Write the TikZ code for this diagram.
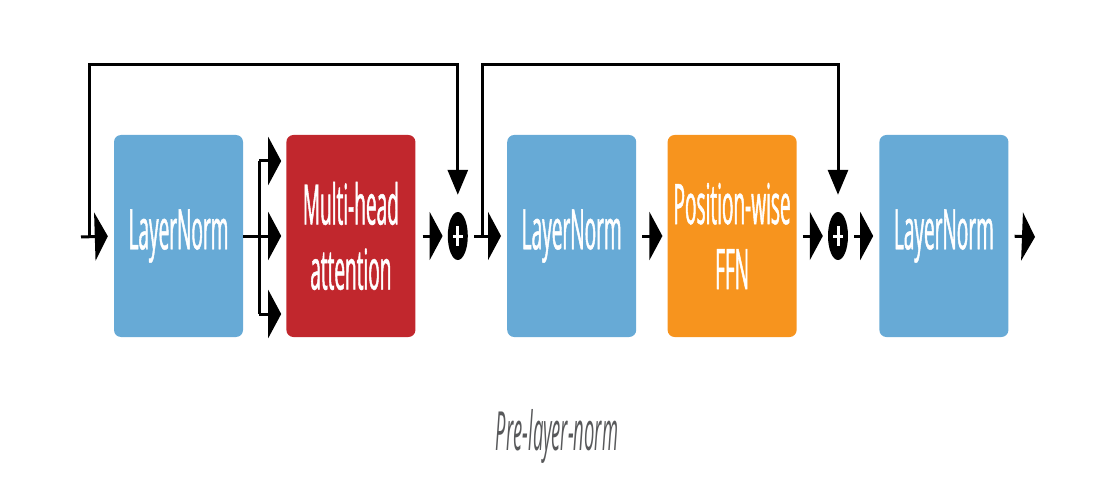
\documentclass[tikz,border=0pt]{standalone}
\usepackage{fontspec}
\usetikzlibrary{positioning,shapes.geometric,arrows.meta}

\newfontfamily\blockfont[FakeStretch=0.34,FakeBold=0.8]{Open Sans}
\newfontfamily\captionfont[FakeStretch=0.34]{Open Sans}
\definecolor{normblue}{RGB}{103,170,214}
\definecolor{attnred}{RGB}{193,39,45}
\definecolor{ffnorange}{RGB}{247,148,30}
\definecolor{captiongray}{RGB}{88,89,91}

\tikzset{
  block/.style={rectangle, rounded corners=7pt, minimum width=129pt, minimum height=202pt,
    inner sep=0pt, align=center, text=white, font=\blockfont\fontsize{56pt}{65pt}\selectfont},
  normblock/.style={block, fill=normblue},
  attnblock/.style={block, fill=attnred},
  ffnblock/.style={block, fill=ffnorange},
  addnode/.style={ellipse, fill=black, minimum width=20pt, minimum height=48pt, inner sep=0pt},
  plusbar/.style={white, line width=3pt},
  flowline/.style={line width=3pt},
  flowarrow/.style={flowline, -{Triangle[length=13pt,width=48pt]}},
  skiparrow/.style={flowline, -{Triangle[length=25pt,width=20pt]}}
}

\begin{document}
\begin{tikzpicture}[x=1pt, y=-1pt]
\useasboundingbox (0,0) rectangle (1106,500);

% main row of blocks
\node[normblock] (norm1) at (178.5,236) {LayerNorm};
\node[attnblock, right=43pt of norm1] (attn) {Multi-head\\attention};
\node[addnode, right=32pt of attn] (add1) {};
\node[normblock, right=39pt of add1] (norm2) {LayerNorm};
\node[ffnblock, right=31pt of norm2] (ffn) {Position-wise\\FFN};
\node[addnode, right=31pt of ffn] (add2) {};
\node[normblock, right=31pt of add2] (norm3) {LayerNorm};

% free ends
\coordinate (in) at (81,237);
\coordinate (skip1) at (89,237);
\coordinate (skip2) at (482,237);
\coordinate (out) at (1035,237);
\coordinate[right=16pt of norm1.east] (split);

% plus signs
\foreach \p in {add1,add2}{
  \draw[plusbar] ([yshift=10pt]\p.center) -- ([yshift=-10pt]\p.center);
  \draw[plusbar] ([xshift=-5pt]\p.center) -- ([xshift=5pt]\p.center);
}

% forward connections
\draw[flowarrow, shorten >=6pt] (in) -- (norm1.west);
\draw[flowline] (norm1.east) -- (split);
\draw[flowline] ([yshift=75pt]split) -- ([yshift=-78pt]split);
\foreach \dy in {75,0,-78}
  \draw[flowarrow, shorten >=5pt] ([yshift=\dy pt]split) -- ([yshift=\dy pt]attn.west);
\draw[flowarrow, shorten <=7pt, shorten >=5pt] (attn.east) -- (add1.west);
\draw[flowarrow, shorten <=6pt, shorten >=6pt] (add1.east) -- (norm2.west);
\draw[flowarrow, shorten <=6pt, shorten >=5pt] (norm2.east) -- (ffn.west);
\draw[flowarrow, shorten <=6pt, shorten >=5pt] (ffn.east) -- (add2.west);
\draw[flowarrow, shorten <=6pt, shorten >=6pt] (add2.east) -- (norm3.west);
\draw[flowarrow, shorten <=6pt] (norm3.east) -- (out);

% residual connections
\draw[skiparrow, shorten >=17pt] (skip1) -- (skip1 |- 0,65) -| (add1.north);
\draw[skiparrow, shorten >=17pt] (skip2) -- (skip2 |- 0,65) -| (add2.north);

% caption
\node[text=captiongray, font=\captionfont\itshape\fontsize{54pt}{60pt}\selectfont] (caption) at (557,436) {Pre-layer-norm};
\end{tikzpicture}
\end{document}
